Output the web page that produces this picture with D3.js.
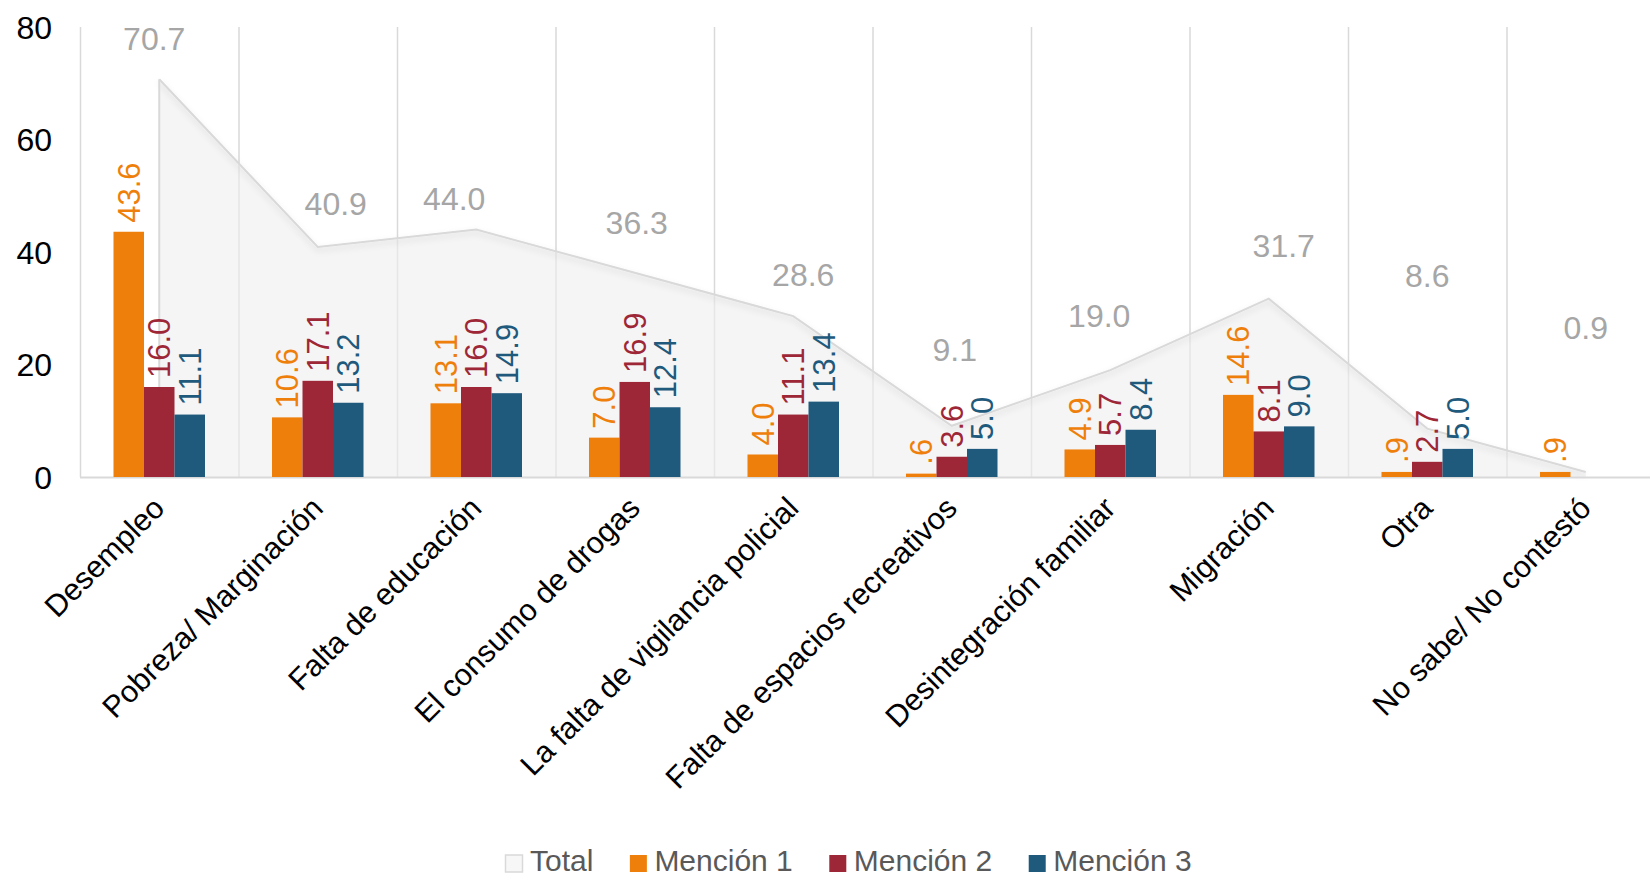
<!DOCTYPE html>
<html>
<head>
<meta charset="utf-8">
<script src="https://cdn.jsdelivr.net/npm/d3@7"></script>
<style>
    body { margin: 0; background: #fff; }
    svg { display: block; font-family: "Liberation Sans", Arial, sans-serif; }
</style>
</head>
<body>
<svg id="chart" width="1650" height="878"></svg>
<script>
// Chart values
const categories = ['Desempleo', 'Pobreza/ Marginación', 'Falta de educación', 'El consumo de drogas',
    'La falta de vigilancia policial', 'Falta de espacios recreativos', 'Desintegración familiar',
    'Migración', 'Otra', 'No sabe/ No contestó'];
const total = [70.7, 40.9, 44.0, 36.3, 28.6, 9.1, 19.0, 31.7, 8.6, 0.9];
const mencion1 = [43.6, 10.6, 13.1, 7.0, 4.0, 0.6, 4.9, 14.6, 0.9, 0.9];
const mencion2 = [16.0, 17.1, 16.0, 16.9, 11.1, 3.6, 5.7, 8.1, 2.7, null];
const mencion3 = [11.1, 13.2, 14.9, 12.4, 13.4, 5.0, 8.4, 9.0, 5.0, null];
const yTicks = [0, 20, 40, 60, 80];

// Total labels were dragged by hand in the original: height (data units) and x shift (px)
const totalLabelAt = [77.9, 48.7, 49.6, 45.2, 36.0, 22.6, 28.8, 41.2, 35.8, 26.5];
const totalLabelDx = [-5, 18, -22, 2, 10, 3, -11, 15, 0, 0];

const series = [
    { name: 'Mención 1', values: mencion1, color: '#EF7F0B' },
    { name: 'Mención 2', values: mencion2, color: '#9E2737' },
    { name: 'Mención 3', values: mencion3, color: '#1F5A7D' }
];

const svg = d3.select('#chart');

const x = d3.scaleBand()
    .domain(categories)
    .range([80, 1665]);

const y = d3.scaleLinear()
    .domain([0, 80])
    .range([477, 27]);

const barW = 30.5;
const inner = d3.scaleBand()
    .domain(series.map(s => s.name))
    .range([-barW * 1.5, barW * 1.5]);

const cx = c => x(c) + x.bandwidth() / 2;

// Shadow under the total line
const defs = svg.append('defs');
defs.append('filter')
    .attr('id', 'shadow')
    .attr('x', '-5%').attr('y', '-5%')
    .attr('width', '110%').attr('height', '120%')
    .append('feDropShadow')
    .attr('dx', 0).attr('dy', 3)
    .attr('stdDeviation', 3)
    .attr('flood-color', '#000')
    .attr('flood-opacity', 0.12);

// Vertical gridlines at category edges
svg.append('g')
    .selectAll('line')
    .data(categories)
    .join('line')
    .attr('x1', d => x(d) + 0.5)
    .attr('x2', d => x(d) + 0.5)
    .attr('y1', y(80))
    .attr('y2', y(0))
    .attr('stroke', '#d9d9d9')
    .attr('stroke-width', 1.5);

// Total area
const area = d3.area()
    .x((d, i) => cx(categories[i]))
    .y0(y(0))
    .y1(d => y(d));

const line = d3.line()
    .x((d, i) => cx(categories[i]))
    .y(d => y(d));

svg.append('path')
    .datum(total)
    .attr('d', area)
    .attr('fill', '#efefef')
    .attr('fill-opacity', 0.6);

svg.append('path')
    .datum(total)
    .attr('d', line)
    .attr('fill', 'none')
    .attr('stroke', '#d9d9d9')
    .attr('stroke-width', 2)
    .attr('filter', 'url(#shadow)');

// left edge of the area
svg.append('line')
    .attr('x1', cx(categories[0]))
    .attr('x2', cx(categories[0]))
    .attr('y1', y(total[0]))
    .attr('y2', y(0))
    .attr('stroke', '#d9d9d9')
    .attr('stroke-width', 2);

// Baseline
svg.append('line')
    .attr('x1', 80)
    .attr('x2', 1665)
    .attr('y1', y(0) + 0.5)
    .attr('y2', y(0) + 0.5)
    .attr('stroke', '#d9d9d9')
    .attr('stroke-width', 2);

// Bars
const fmt = v => v < 1 ? v.toFixed(1).replace(/^0/, '') : v.toFixed(1);

series.forEach(s => {
    const pts = categories.map((c, i) => ({ c, v: s.values[i] })).filter(d => d.v != null);

    svg.append('g')
        .selectAll('rect')
        .data(pts)
        .join('rect')
        .attr('x', d => cx(d.c) + inner(s.name))
        .attr('width', inner.bandwidth())
        .attr('y', d => y(d.v))
        .attr('height', d => y(0) - y(d.v))
        .attr('fill', s.color);

    svg.append('g')
        .selectAll('text')
        .data(pts)
        .join('text')
        .attr('transform', d => `translate(${cx(d.c) + inner(s.name) + inner.bandwidth() / 2},${y(d.v) - 9}) rotate(-90)`)
        .attr('dy', '0.36em')
        .attr('fill', s.color)
        .style('font-size', '31px')
        .text(d => fmt(d.v));
});

// Total labels
svg.append('g')
    .selectAll('text')
    .data(total)
    .join('text')
    .attr('x', (d, i) => cx(categories[i]) + totalLabelDx[i])
    .attr('y', (d, i) => y(totalLabelAt[i]))
    .attr('dy', '0.36em')
    .attr('text-anchor', 'middle')
    .attr('fill', '#a6a6a6')
    .style('font-size', '32px')
    .text(d => d.toFixed(1));

// Y axis labels
svg.append('g')
    .selectAll('text')
    .data(yTicks)
    .join('text')
    .attr('x', 52)
    .attr('y', d => y(d))
    .attr('dy', '0.36em')
    .attr('text-anchor', 'end')
    .attr('fill', '#000')
    .style('font-size', '32px')
    .text(d => d);

// X axis labels
svg.append('g')
    .selectAll('text')
    .data(categories)
    .join('text')
    .attr('transform', d => `translate(${cx(d) + 7},${y(0) + 33}) rotate(-45)`)
    .attr('text-anchor', 'end')
    .attr('fill', '#000')
    .style('font-size', '30.5px')
    .text(d => d);

// Legend
const legendItems = [{ name: 'Total', color: '#f7f7f7', stroke: '#d9d9d9' }]
    .concat(series.map(s => ({ name: s.name, color: s.color, stroke: 'none' })));

const legend = svg.append('g');
let lx = 505;
legendItems.forEach(item => {
    const g = legend.append('g').attr('transform', `translate(${lx},0)`);
    g.append('rect')
        .attr('x', 0.5).attr('y', 855)
        .attr('width', 17).attr('height', 17)
        .attr('fill', item.color)
        .attr('stroke', item.stroke)
        .attr('stroke-width', 1.5);
    const t = g.append('text')
        .attr('x', 25)
        .attr('y', 871)
        .attr('fill', '#595959')
        .style('font-size', '30px')
        .text(item.name);
    lx += 25 + t.node().getComputedTextLength() + 36;
});
</script>
</body>
</html>
